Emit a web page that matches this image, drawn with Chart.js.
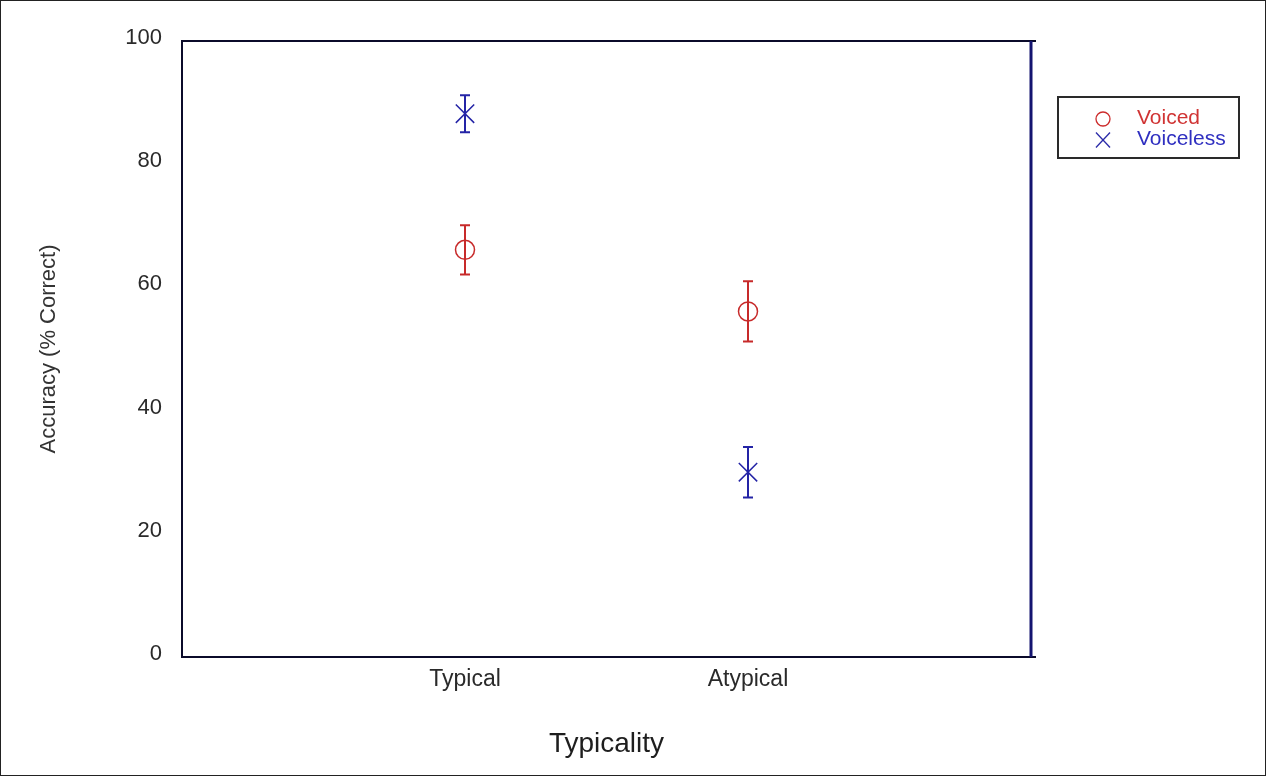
<!DOCTYPE html>
<html>
<head>
<meta charset="utf-8">
<script src="https://cdn.jsdelivr.net/npm/chart.js@4"></script>
<style>
  html, body { margin: 0; padding: 0; background: #fff; }
  #wrap { position: relative; width: 1266px; height: 776px; }
  #frame { position: absolute; left: 0; top: 0; width: 1266px; height: 776px; box-sizing: border-box; border: 1px solid #222; pointer-events: none; }
  #legend { position: absolute; left: 1057px; top: 96px; width: 183px; height: 63px; box-sizing: border-box; border: 2px solid #2a2a2a; font-family: 'Liberation Sans', Arial, sans-serif; font-size: 21px; }
  #legend .row { position: absolute; left: 0; height: 20px; line-height: 20px; }
  #legend svg { position: absolute; left: 35px; top: 2px; }
  #legend span { position: absolute; left: 78px; top: -1px; white-space: nowrap; }
</style>
</head>
<body>
<div id="wrap">
  <canvas id="typicality" width="1266" height="776"></canvas>
  <div id="frame"></div>
  <div id="legend">
    <div class="row" style="top:10px">
      <svg width="18" height="18"><circle cx="9" cy="9" r="7" fill="none" stroke="#cc2b2b" stroke-width="1.3"/></svg>
      <span style="color:#d03434">Voiced</span>
    </div>
    <div class="row" style="top:31px">
      <svg width="18" height="18"><line x1="2" y1="1.5" x2="16" y2="16.5" stroke="#2a2aa8" stroke-width="1.3"/><line x1="16" y1="1.5" x2="2" y2="16.5" stroke="#2a2aa8" stroke-width="1.3"/></svg>
      <span style="color:#2f2fc0">Voiceless</span>
    </div>
  </div>
</div>
<script>
// values
var conditions = ['Typical', 'Atypical'];
var voicedMeans = [66.1, 56.1];
var voicedErrors = [4.0, 4.9];
var voicelessMeans = [88.2, 30.0];
var voicelessErrors = [3.0, 4.1];
var yTicks = [0, 20, 40, 60, 80, 100];

var RED = '#c72a2a';
var BLUE = '#2424a6';
var FONT = "'Liberation Sans', Arial, sans-serif";

function points(means, errors) {
  return means.map(function(m, i) { return {x: i + 1, y: m, err: errors[i]}; });
}

// vertical error bars with caps, drawn through the chart's scales
var errorBars = {
  id: 'errorBars',
  afterDatasetsDraw: function(chart) {
    var ctx = chart.ctx;
    var xs = chart.scales.x, ys = chart.scales.y;
    chart.data.datasets.forEach(function(ds) {
      ctx.save();
      ctx.strokeStyle = ds.borderColor;
      ctx.lineWidth = 2;
      ds.data.forEach(function(p) {
        var px = xs.getPixelForValue(p.x);
        var top = ys.getPixelForValue(p.y + p.err);
        var bot = ys.getPixelForValue(p.y - p.err);
        ctx.beginPath();
        ctx.moveTo(px, top); ctx.lineTo(px, bot);
        ctx.moveTo(px - 5, top); ctx.lineTo(px + 5, top);
        ctx.moveTo(px - 5, bot); ctx.lineTo(px + 5, bot);
        ctx.stroke();
      });
      ctx.restore();
    });
  }
};

// box around the plot area
var plotFrame = {
  id: 'plotFrame',
  afterDraw: function(chart) {
    var a = chart.chartArea, ctx = chart.ctx;
    ctx.save();
    ctx.lineWidth = 2;
    ctx.strokeStyle = '#0b0b2a';
    ctx.beginPath();
    ctx.moveTo(a.left, a.top); ctx.lineTo(a.right + 5, a.top);
    ctx.moveTo(a.left, a.bottom); ctx.lineTo(a.right + 5, a.bottom);
    ctx.moveTo(a.left, a.top - 1); ctx.lineTo(a.left, a.bottom + 1);
    ctx.stroke();
    ctx.lineWidth = 3;
    ctx.strokeStyle = '#141470';
    ctx.beginPath();
    ctx.moveTo(a.right, a.top); ctx.lineTo(a.right, a.bottom);
    ctx.stroke();
    ctx.restore();
  }
};

var chart = new Chart('typicality', {
  type: 'scatter',
  data: {
    datasets: [
      {
        label: 'Voiced',
        data: points(voicedMeans, voicedErrors),
        borderColor: RED,
        backgroundColor: 'rgba(0,0,0,0)',
        pointStyle: 'circle',
        pointRadius: 9.5,
        pointBorderWidth: 1.5
      },
      {
        label: 'Voiceless',
        data: points(voicelessMeans, voicelessErrors),
        borderColor: BLUE,
        backgroundColor: BLUE,
        pointStyle: 'crossRot',
        pointRadius: 13,
        pointBorderWidth: 1.5
      }
    ]
  },
  options: {
    responsive: false,
    animation: false,
    layout: { padding: { top: 41, right: 235, left: 0, bottom: 0 } },
    plugins: { legend: { display: false }, tooltip: { enabled: false } },
    scales: {
      x: {
        type: 'linear',
        min: 0,
        max: 3,
        grid: { display: false, drawTicks: false },
        border: { display: false },
        afterBuildTicks: function(scale) {
          scale.ticks = conditions.map(function(c, i) { return {value: i + 1}; });
        },
        afterFit: function(scale) { scale.height = 119; },
        ticks: {
          padding: 9,
          color: '#2a2a2a',
          font: { family: FONT, size: 23 },
          callback: function(v) { return conditions[v - 1]; }
        },
        title: {
          display: true,
          text: 'Typicality',
          color: '#1e1e1e',
          font: { family: FONT, size: 28 },
          padding: { top: 0, bottom: 15 }
        }
      },
      y: {
        min: 0,
        max: 100,
        grid: { display: false, drawTicks: false },
        border: { display: false },
        afterBuildTicks: function(scale) {
          scale.ticks = yTicks.map(function(v) { return {value: v}; });
        },
        afterFit: function(scale) { scale.width = 182; },
        ticks: {
          padding: 20,
          labelOffset: -3,
          color: '#2a2a2a',
          font: { family: FONT, size: 22 }
        },
        title: {
          display: true,
          text: 'Accuracy (% Correct)',
          color: '#333333',
          font: { family: FONT, size: 22 },
          padding: { top: 36, bottom: 0 }
        }
      }
    }
  },
  plugins: [errorBars, plotFrame]
});
</script>
</body>
</html>
